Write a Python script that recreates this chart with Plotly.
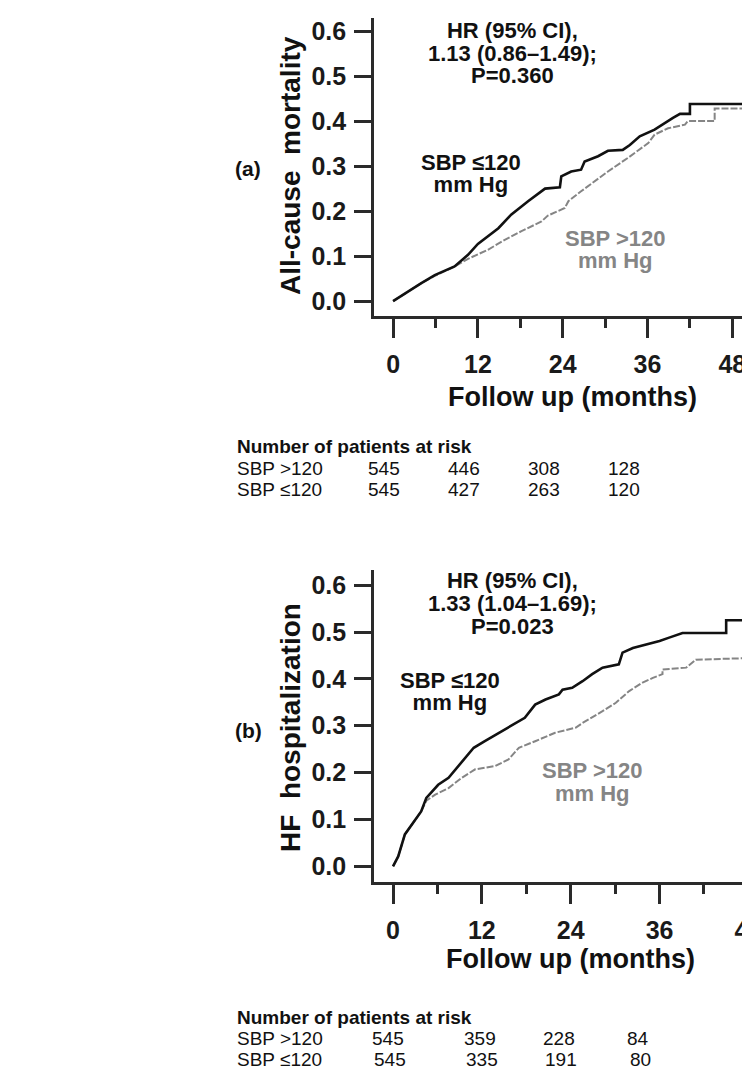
import plotly.graph_objects as go

W, H = 750, 1072

# ---------------- data ----------------
# (a) All-cause mortality
a_low_t = [0, 2.1, 4.0, 5.9, 8.7, 10.6, 12.0, 14.9, 16.7, 19.1, 21.5, 23.6, 23.8, 25.2, 26.6, 27.1,
           29.0, 30.4, 32.5, 33.5, 34.9, 37.0, 38.4, 39.6, 40.6, 42.0, 42.0, 49.7]
a_low_v = [0, 0.022, 0.040, 0.058, 0.077, 0.103, 0.127, 0.162, 0.192, 0.222, 0.250, 0.253, 0.277, 0.288,
           0.292, 0.310, 0.322, 0.334, 0.336, 0.347, 0.366, 0.381, 0.396, 0.407, 0.416, 0.416, 0.438, 0.438]
a_high_t = [0, 2.1, 4.0, 5.9, 8.7, 10.6, 13.4, 15.8, 18.1, 21.0, 21.9, 24.3, 24.8, 26.6, 30.4, 33.2,
            36.1, 37.0, 38.9, 41.3, 41.7, 45.5, 45.5, 49.7]
a_high_v = [0, 0.020, 0.040, 0.056, 0.077, 0.094, 0.114, 0.136, 0.155, 0.177, 0.190, 0.207, 0.222, 0.244,
            0.288, 0.318, 0.351, 0.370, 0.384, 0.392, 0.400, 0.400, 0.428, 0.428]

# (b) HF hospitalization
b_low_t = [0, 0.7, 1.6, 2.9, 3.8, 4.5, 6.1, 7.5, 9.3, 10.9, 12.4, 14.7, 16.5, 17.8, 19.2, 20.6, 22.4,
           22.9, 24.2, 25.6, 26.9, 28.3, 30.5, 31.0, 32.4, 34.2, 36.0, 37.3, 39.1, 45.0, 45.0, 49.5]
b_low_v = [0, 0.021, 0.068, 0.096, 0.117, 0.146, 0.174, 0.189, 0.224, 0.253, 0.267, 0.288, 0.306, 0.317,
           0.345, 0.356, 0.367, 0.377, 0.381, 0.395, 0.410, 0.424, 0.431, 0.456, 0.466, 0.473, 0.481,
           0.488, 0.498, 0.498, 0.525, 0.525]
b_high_t = [0, 0.7, 1.6, 2.9, 3.8, 4.5, 5.7, 7.5, 9.3, 11.1, 13.8, 15.6, 17.0, 19.2, 21.9, 24.7, 25.6,
            28.3, 30.1, 31.9, 33.7, 35.1, 36.4, 36.4, 39.6, 40.9, 49.5]
b_high_v = [0, 0.021, 0.068, 0.096, 0.117, 0.140, 0.153, 0.167, 0.189, 0.207, 0.214, 0.228, 0.253, 0.267,
            0.285, 0.296, 0.306, 0.331, 0.349, 0.374, 0.392, 0.402, 0.410, 0.420, 0.424, 0.441, 0.445]

x_ticks = [0, 12, 24, 36, 48]
y_ticks = [0.0, 0.1, 0.2, 0.3, 0.4, 0.5, 0.6]
y_tick_text = ["0.0", "0.1", "0.2", "0.3", "0.4", "0.5", "0.6"]

risk_groups = ["SBP >120", "SBP \u2264120"]
risk_a = [[545, 446, 308, 128], [545, 427, 263, 120]]
risk_b = [[545, 359, 228, 84], [545, 335, 191, 80]]

hr_a = ["HR (95% CI),", "1.13 (0.86\u20131.49);", "P=0.360"]
hr_b = ["HR (95% CI),", "1.33 (1.04\u20131.69);", "P=0.023"]
label_low = ["SBP \u2264120", "mm Hg"]
label_high = ["SBP >120", "mm Hg"]

# ---------------- styling ----------------
FONT = "Liberation Sans, Arial, Helvetica, sans-serif"
BLACK = "#111111"
GRAY = "#858585"
AXIS = "#2a2a2a"


def px(x):
    return x / W


def py(y):
    return 1 - y / H


fig = go.Figure()

for t, v, ax in [(a_high_t, a_high_v, "1"), (b_high_t, b_high_v, "2")]:
    fig.add_trace(go.Scatter(x=t, y=v, mode="lines", xaxis="x" + ax, yaxis="y" + ax,
                             line=dict(color=GRAY, width=2, dash="7px,2px"),
                             showlegend=False, hoverinfo="skip"))
for t, v, ax in [(a_low_t, a_low_v, "1"), (b_low_t, b_low_v, "2")]:
    fig.add_trace(go.Scatter(x=t, y=v, mode="lines", xaxis="x" + ax, yaxis="y" + ax,
                             line=dict(color=BLACK, width=2.6),
                             showlegend=False, hoverinfo="skip"))

common_x = dict(showline=True, linecolor=AXIS, linewidth=2.6, showgrid=False, zeroline=False,
                automargin=False, ticklabeloverflow="allow",
                ticks="outside", ticklen=19, tickwidth=2.6, tickcolor=AXIS,
                tickvals=x_ticks, ticktext=[str(v) for v in x_ticks],
                tickfont=dict(family=FONT, size=25, color="#1a1a1a", weight="bold"),
                ticklabelstandoff=5,
                minor=dict(dtick=6, tick0=0, ticks="outside", ticklen=9, tickwidth=2.6, tickcolor=AXIS))
common_y = dict(showline=True, linecolor=AXIS, linewidth=2.6, showgrid=False, zeroline=False,
                automargin=False,
                ticks="outside", ticklen=17, tickwidth=2.6, tickcolor=AXIS,
                tickvals=y_ticks, ticktext=y_tick_text,
                tickfont=dict(family=FONT, size=25, color="#1a1a1a", weight="bold"),
                ticklabelstandoff=3)

fig.update_layout(
    template="none",
    width=W, height=H,
    margin=dict(l=0, r=0, t=0, b=0, pad=0),
    paper_bgcolor="white", plot_bgcolor="white",
    showlegend=False,
    xaxis=dict(domain=[px(366), px(742)], range=[-2.7, 50.5], anchor="y", **common_x),
    yaxis=dict(domain=[py(308), py(10)], range=[-0.033, 0.629], anchor="x", **common_y),
    xaxis2=dict(domain=[px(366), 1.0], range=[-2.57, 49.3], anchor="y2", **common_x),
    yaxis2=dict(domain=[py(874), py(561.7)], range=[-0.0335, 0.633], anchor="x2", **common_y),
)

ann = []


def text(x, y, s, size, color="#111111", bold=True, xanchor="center", angle=0):
    ann.append(dict(x=px(x), y=py(y), xref="paper", yref="paper", showarrow=False,
                    text=("<b>%s</b>" % s) if bold else s, textangle=angle,
                    xanchor=xanchor, yanchor="middle",
                    font=dict(family=FONT, size=size, color=color)))


def block(x, y, lines, size, spacing, color="#111111"):
    # one multi-line label: glyphs at `size`, line pitch = 1.3 * base font size
    base = spacing / 1.3
    body = "<br>".join("<span style='font-size:%dpx'><b>%s</b></span>" % (size, s) for s in lines)
    ann.append(dict(x=px(x), y=py(y), xref="paper", yref="paper", showarrow=False,
                    text=body, xanchor="center", yanchor="middle", align="center",
                    font=dict(family=FONT, size=base, color=color)))


# panel labels
text(240, 160, "(a)", 21)
text(240, 722, "(b)", 21)

# y-axis titles
text(283, 158, "All-cause\u00a0 mortality", 28, angle=-90)
text(282, 720, "HF\u00a0 hospitalization", 28, angle=-90)

# x-axis titles
text(564, 389, "Follow up (months)", 27)
text(562, 951, "Follow up (months)", 27)

# HR annotations
block(504, 45, hr_a, 22, 22.5)
block(504, 595, hr_b, 22, 23)

# group labels
block(463, 166, label_low, 22, 22)
block(607, 241, label_high, 22, 22, color=GRAY)
block(442, 683, label_low, 22, 22)
block(584, 773.5, label_high, 22, 23, color=GRAY)


# risk tables
def table(top, counts, cols):
    text(227, top, "Number of patients at risk", 19, xanchor="left")
    for r, (g, row) in enumerate(zip(risk_groups, counts)):
        yy = top + 21 * (r + 1)
        text(227, yy, g, 19, bold=False, xanchor="left")
        for c, n in enumerate(row):
            text(cols[r][c], yy, str(n), 19, bold=False)


table(439, risk_a, [[376, 456, 536, 616], [376, 456, 536, 616]])
table(1009, risk_b, [[380, 472, 551, 630], [382, 474, 553, 632]])

fig.update_layout(annotations=ann)
fig.write_html("out.html")
